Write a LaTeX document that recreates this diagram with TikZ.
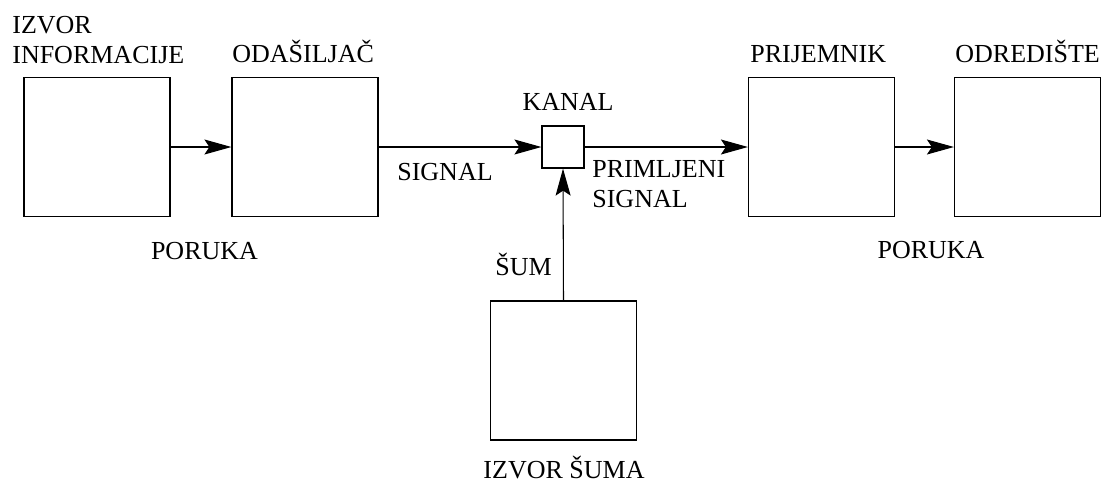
\documentclass[tikz,border=0pt]{standalone}
\usepackage{fontspec}
\setmainfont{Liberation Serif}
\usetikzlibrary{arrows.meta}

\begin{document}
\begin{tikzpicture}[x=0.02cm, y=-0.02cm,
  blok/.style={draw, line width=0.7pt, minimum width=2.92cm, minimum height=2.78cm, inner sep=0pt},
  veza/.style={line width=0.6pt, -{Stealth[length=0.54cm, width=0.3cm, inset=0.1cm]}},
  natpis/.style={inner sep=0pt, font=\fontsize{14.8}{17.07}\selectfont}]

\useasboundingbox (0,0) rectangle (1108,481);

\node[blok] (izvor) at (97,147) {};
\node[blok] (odasiljac) at (305,147) {};
\node[blok, minimum width=0.84cm, minimum height=0.84cm] (kanal) at (563,147) {};
\node[blok] (prijemnik) at (821.5,147) {};
\node[blok] (odrediste) at (1027.5,147) {};
\node[blok] (izvorsuma) at (563.5,370.5) {};

\draw[veza] (izvor.east) -- (odasiljac.west);
\draw[veza] (odasiljac.east) -- (kanal.west);
\draw[veza] (kanal.east) -- (prijemnik.west);
\draw[veza] (prijemnik.east) -- (odrediste.west);
\draw[veza] (izvorsuma.north) -- (kanal.south);

\node[natpis, anchor=base west, align=left] (l-izvor) at (12,63) {IZVOR\\INFORMACIJE};
\node[natpis, anchor=base west] (l-odasiljac) at (232,62) {ODAŠILJAČ};
\node[natpis, anchor=base] (l-kanal) at (568,110) {KANAL};
\node[natpis, anchor=base west] (l-signal) at (397,180) {SIGNAL};
\node[natpis, anchor=base west, align=left] (l-primljeni) at (592,207) {PRIMLJENI\\SIGNAL};
\node[natpis, anchor=base east] (l-sum) at (552,275) {ŠUM};
\node[natpis, anchor=base west] (l-prijemnik) at (750,62) {PRIJEMNIK};
\node[natpis, anchor=base west] (l-odrediste) at (955,62) {ODREDIŠTE};
\node[natpis, anchor=base] (l-poruka1) at (204.5,259) {PORUKA};
\node[natpis, anchor=base] (l-poruka2) at (931,258) {PORUKA};
\node[natpis, anchor=base] (l-izvorsuma) at (564,478) {IZVOR ŠUMA};

\end{tikzpicture}
\end{document}
